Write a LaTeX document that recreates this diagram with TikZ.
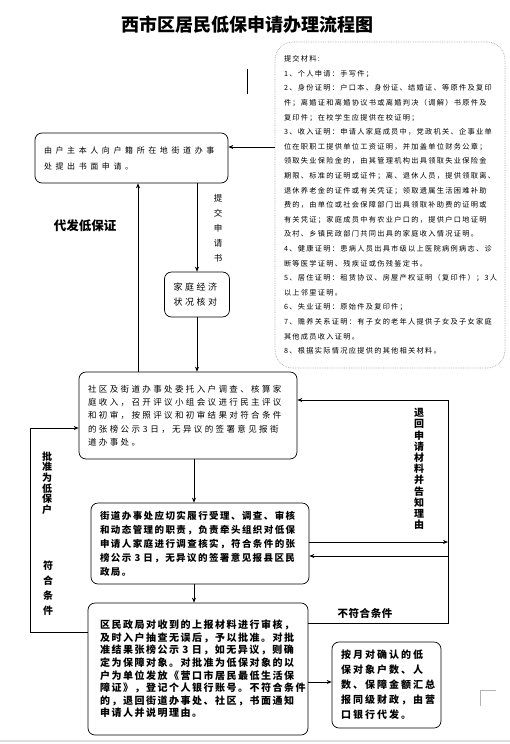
\documentclass[tikz,border=0pt]{standalone}
\usepackage{fontspec}
\setmainfont{Noto Sans CJK SC}
\usetikzlibrary{arrows.meta,calc}

\begin{document}
\begin{tikzpicture}[x=1pt,y=-1pt,>={Stealth[length=5pt,width=4pt]},line width=0.7pt,
 box/.style={draw,rounded corners=7pt,align=left,inner xsep=9pt,inner ysep=0pt},
 lbl/.style={align=center,inner sep=0pt}]
\useasboundingbox (0,0) rectangle (510,744);
\node[font=\bfseries\fontsize{18}{18}\selectfont] (title) at (247,25) {西市区居民低保申请办理流程图};
\node[box,draw=gray!70,densely dotted,rounded corners=18pt,text width=212,minimum height=326,
 font=\fontsize{7.2}{14.6}\selectfont\addfontfeatures{LetterSpace=18}] (mat) at (390,205)
 {提交材料:\\
 1、个人申请：手写件；\\
 2、身份证明：户口本、身份证、结婚证、等原件及复印\\
 件；离婚证和离婚协议书或离婚判决（调解）书原件及\\
 复印件；在校学生应提供在校证明；\\
 3、收入证明：申请人家庭成员中，党政机关、企事业单\\
 位在职职工提供单位工资证明，并加盖单位财务公章；\\
 领取失业保险金的，由其管理机构出具领取失业保险金\\
 期限、标准的证明或证件；离、退休人员，提供领取离、\\
 退休养老金的证件或有关凭证；领取遗属生活困难补助\\
 费的，由单位或社会保障部门出具领取补助费的证明或\\
 有关凭证；家庭成员中有农业户口的，提供户口地证明\\
 及村、乡镇民政部门共同出具的家庭收入情况证明。\\
 4、健康证明：患病人员出具市级以上医院病例病志、诊\\
 断等医学证明、残疾证或伤残鉴定书。\\
 5、居住证明：租赁协议、房屋产权证明（复印件）；3人\\
 以上邻里证明。\\
 6、失业证明：原始件及复印件；\\
 7、赡养关系证明：有子女的老年人提供子女及子女家庭\\
 其他成员收入证明。\\
 8、根据实际情况应提供的其他相关材料。};
\node[box,text width=175,minimum height=50,
 font=\fontsize{8}{16}\selectfont\addfontfeatures{LetterSpace=45}] (A) at (131.5,158)
 {由户主本人向户籍所在地街道办事\\处提出书面申请。};
\node[box,text width=47,minimum height=45,
 font=\fontsize{9}{15}\selectfont\addfontfeatures{LetterSpace=28}] (B) at (197,294.5)
 {家庭经济\\状况核对};
\node[box,text width=200,minimum height=87,
 font=\fontsize{8.5}{13.3}\selectfont\addfontfeatures{LetterSpace=28}] (C) at (188,415.5)
 {社区及街道办事处委托入户调查、核算家\\
 庭收入，召开评议小组会议进行民主评议\\
 和初审，按照评议和初审结果对符合条件\\
 的张榜公示 3 日，无异议的签署意见报街\\
 道办事处。};
\node[box,text width=200,minimum height=81,
 font=\bfseries\fontsize{9.5}{14}\selectfont\addfontfeatures{LetterSpace=15}] (D) at (200,543.5)
 {街道办事处应切实履行受理、调查、审核\\
 和动态管理的职责，负责牵头组织对低保\\
 申请人家庭进行调查核实，符合条件的张\\
 榜公示 3 日，无异议的签署意见报县区民\\
 政局。};
\node[box,inner xsep=12pt,text width=196,minimum height=132,
 font=\bfseries\fontsize{10}{12.6}\selectfont\addfontfeatures{LetterSpace=15}] (E) at (198,669)
 {区民政局对收到的上报材料进行审核，\\
 及时入户抽查无误后，予以批准。对批\\
 准结果张榜公示 3 日，如无异议，则确\\
 定为保障对象。对批准为低保对象的以\\
 户为单位发放《营口市居民最低生活保\\
 障证》，登记个人银行账号。不符合条件\\
 的，退回街道办事处、社区，书面通知\\
 申请人并说明理由。};
\node[box,text width=91,minimum height=86,
 font=\bfseries\fontsize{10}{15}\selectfont\addfontfeatures{LetterSpace=20}] (F) at (386.5,685)
 {按月对确认的低\\保对象户数、人\\数、保障金额汇总\\报同级财政，由营\\口银行代发。};
\node[lbl,font=\fontsize{8.5}{15}\selectfont] (ltj) at (218,228) {提\\交\\申\\请\\书};
\node[lbl,font=\bfseries\fontsize{12.5}{13}\selectfont] (ldf) at (85,226) {代发低保证};
\node[lbl,font=\bfseries\fontsize{10}{10.6}\selectfont] (lpz) at (47,483) {批\\准\\为\\低\\保\\户};
\node[lbl,font=\bfseries\fontsize{10}{15}\selectfont] (lfh) at (48,588) {符\\合\\条\\件};
\node[lbl,font=\bfseries\fontsize{10}{11.2}\selectfont] (lth) at (419,469) {退\\回\\申\\请\\材\\料\\并\\告\\知\\理\\由};
\node[lbl,font=\bfseries\fontsize{10.5}{11}\selectfont\addfontfeatures{LetterSpace=5}] (lbf) at (365,613) {不符合条件};
\coordinate (lx) at (30,0);
\coordinate (rx) at (448,0);
\draw[->] ([yshift=11pt]A.east -| mat.west) -- ([yshift=11pt]A.east);
\draw[->] (A.south -| B.north) -- (B.north);
\draw[->] (B.south) -- (B.south |- C.north);
\draw[->] ([xshift=-50pt]C.north) -- ([xshift=-50pt]C.north |- A.south);
\draw[->] ([xshift=6pt]C.south) -- ([xshift=6pt]C.south |- D.north);
\draw[->] ([xshift=-6pt]D.south) -- ([xshift=-6pt]D.south |- E.north);
\draw[->] ([yshift=-13pt]E.east) -- ([yshift=-13pt]E.east -| F.west);
\draw[->] ([yshift=37pt]E.west) -- ([yshift=37pt]E.west -| lx) -- ([yshift=-12.5pt]C.west -| lx) -- ([yshift=-12.5pt]C.west);
\draw[->] ([yshift=46pt]E.east) -- ([yshift=46pt]E.east -| rx) -- ([yshift=15.5pt]C.east -| rx) -- ([yshift=15.5pt]C.east);
\draw[->] ([yshift=1.5pt]D.east) -- ([yshift=1.5pt]D.east -| rx);
\draw[->] ([yshift=-12.5pt]D.east -| rx) -- ([yshift=-12.5pt]D.east);
\draw (247,69) -- (247,94);
\draw[gray!60] (480,706) -- (480,690) -- (496,690);
\draw[gray!25,line width=1.5pt] (0,741) -- (510,741);
\end{tikzpicture}
\end{document}
